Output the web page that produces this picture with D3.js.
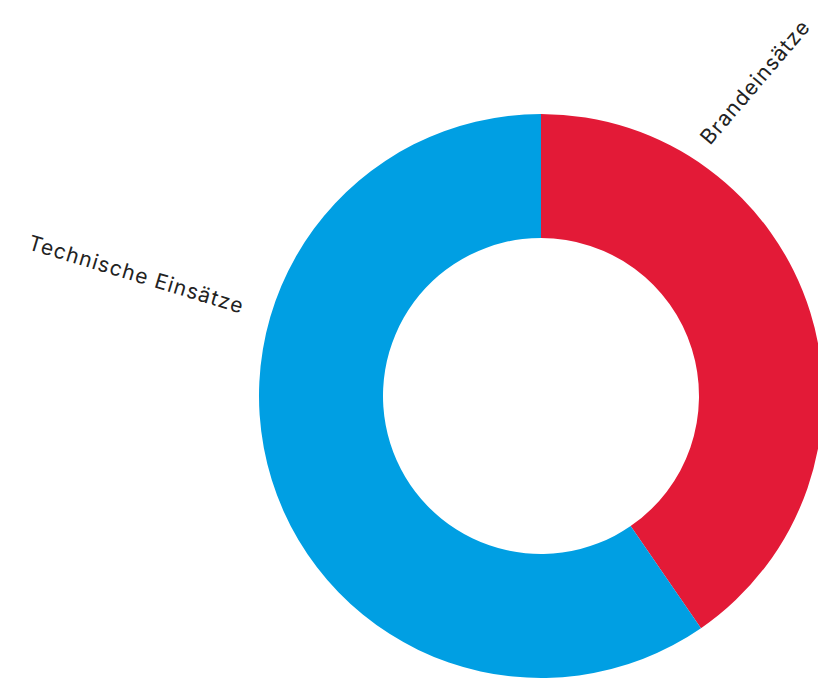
<!DOCTYPE html>
<html><head><meta charset="utf-8">
<script src="https://cdn.jsdelivr.net/npm/d3@7"></script>
<style>html,body{margin:0;padding:0;background:#fff;overflow:hidden}</style>
</head><body>
<svg id="c" width="818" height="680"></svg>
<script>
const categories = ["Brandeinsätze", "Technische Einsätze"];
const values = [40.4, 59.6];
const colors = ["#E31A37", "#009FE3"];
const labelAngles = [-49.5, 16.8];
const labelPos = [[710, 146], [27, 249]];

const svg = d3.select("#c");
const cx = 541, cy = 396, rOuter = 282, rInner = 158;
const pie = d3.pie().sort(null).value(d => d)(values);
const arc = d3.arc().innerRadius(rInner).outerRadius(rOuter);
const g = svg.append("g").attr("transform", `translate(${cx},${cy})`);
g.selectAll("path").data(pie).join("path")
  .attr("d", arc).attr("fill", (d, i) => colors[i]);

svg.selectAll("text.lbl").data(categories).join("text")
  .attr("class", "lbl")
  .attr("transform", (d, i) => `translate(${labelPos[i][0]},${labelPos[i][1]}) rotate(${labelAngles[i]})`)
  .attr("font-family", "Inter, 'Noto Sans', sans-serif")
  .attr("font-size", 21)
  .attr("letter-spacing", "1.1px")
  .attr("fill", "#222")
  .text(d => d);
</script>
</body></html>
